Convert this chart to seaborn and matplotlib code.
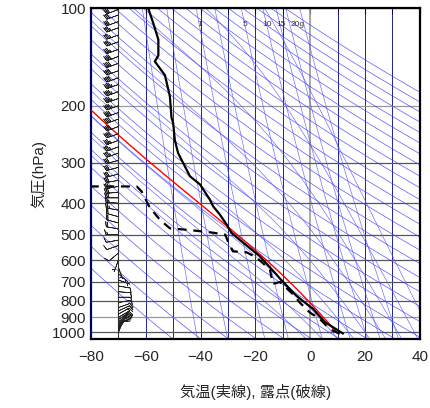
import numpy as np
import pandas as pd
import seaborn as sns
import matplotlib
matplotlib.use("Agg")
import matplotlib.pyplot as plt

# sounding
t_pres = [1010, 930, 848, 773, 700, 647, 583, 529, 494, 465, 433, 409, 390, 350, 330,
          280, 255, 226, 218, 187, 161, 146, 140, 125, 111, 100]
t_temp = [12.0, 5.3, 1.1, -5.0, -9.9, -13.5, -18.4, -24.5, -28.7, -30.5, -33.0, -35.4,
          -36.6, -40.2, -43.9, -48.2, -49.4, -50.0, -50.6, -51.2, -53.0, -56.7, -55.4,
          -55.4, -57.3, -59.1]
td_pres = [1010, 980, 910, 870, 810, 765, 700, 710, 640, 588, 567, 563, 525, 500, 493,
           484, 478, 450, 413, 368, 355, 355]
td_dew = [10.8, 7.2, 3.5, -0.1, -3.8, -6.2, -11.0, -13.6, -14.7, -19.6, -23.2, -28.2,
          -30.0, -31.0, -35.5, -43.9, -51.2, -54.8, -58.5, -61.5, -63.3, -80.0]

# winds: pressure, direction (deg), speed (kt)
w_pres = [1005, 990, 975, 960, 945, 930, 915, 900, 880, 860, 840, 810, 780, 750, 720,
          690, 660, 630, 600, 570, 540, 520, 500, 480, 460, 440, 420, 400, 385, 370,
          355, 340, 325, 310, 295, 280, 268, 256, 244, 232, 220, 210, 200, 190, 181,
          172, 164, 156, 148, 141, 134, 127, 121, 115, 110, 105, 101]
w_dir = [20, 30, 35, 40, 45, 50, 55, 60, 60, 65, 70, 80, 90, 95, 100,
         110, 130, 160, 200, 230, 250, 260, 270, 280, 285, 285, 280, 275, 270, 265,
         260, 260, 255, 255, 255, 250, 250, 250, 250, 250, 250, 250, 250, 250, 250,
         250, 250, 250, 250, 250, 250, 250, 250, 250, 250, 250, 250]
w_spd = [8, 10, 12, 13, 14, 15, 15, 15, 14, 12, 10, 10, 12, 10, 8,
         6, 5, 5, 6, 8, 10, 12, 15, 18, 20, 22, 25, 25, 28, 30,
         30, 30, 30, 30, 32, 35, 35, 35, 40, 40, 40, 40, 45, 45, 45,
         45, 40, 40, 40, 40, 35, 35, 35, 35, 30, 30, 30]

mix_ratios = [0.1, 0.3, 1, 2, 5, 10, 15, 20, 30]
mix_labels = {1: "1", 5: "5", 10: "10", 15: "15", 20: "20g"}
thetas = np.arange(220, 520, 10)
moist_start = np.arange(-4, 45, 6)

sns.set_style("white")
plt.rcParams['font.family'] = ['Liberation Sans', 'Noto Sans CJK JP']

P = np.logspace(np.log10(1050), 2, 300)


def es(t):
    return 6.112 * np.exp(17.67 * t / (t + 243.5))


def moist(t0, p0, p_to):
    # simple integration of the pseudo adiabat
    ps = np.linspace(p0, p_to, 600)
    out = [t0]
    T = t0 + 273.15
    for i in range(1, len(ps)):
        p = ps[i - 1]
        e = es(T - 273.15)
        rs = 0.622 * e / (p - e)
        L = 2.5e6
        dTdp = (287.0 * T + L * rs) / (p * (1004.0 + L * L * rs * 0.622 / (287.0 * T * T)))
        T += dTdp * (ps[i] - p)
        out.append(T - 273.15)
    return ps, np.array(out)


fig = plt.figure(figsize=(4.31, 4.08), dpi=100)
ax = fig.add_axes([0.211, 0.169, 0.763, 0.811])
ax.set_yscale("log")

# dry adiabats
for th in thetas:
    sns.lineplot(x=th * (P / 1000.0) ** 0.286 - 273.15, y=P, ax=ax, color="#3030ff",
                 lw=0.5, alpha=0.8, sort=False, estimator=None)
# moist adiabats
for t0 in moist_start:
    ps, ts = moist(t0, 1000, 100)
    ps2, ts2 = moist(t0, 1000, 1050)
    ax.plot(np.r_[ts2[::-1], ts], np.r_[ps2[::-1], ps], color="#5050ff", lw=0.5, alpha=0.8)
# mixing ratio lines
for w in mix_ratios:
    e = w / 1000.0 * P / (0.622 + w / 1000.0)
    l = np.log(e / 6.112)
    t = 243.5 * l / (17.67 - l)
    ax.plot(t, P, color="#5050ff", lw=0.5, alpha=0.8)
    if w in mix_labels:
        e1 = w / 1000.0 * 115 / (0.622 + w / 1000.0)
        l1 = np.log(e1 / 6.112)
        ax.text(243.5 * l1 / (17.67 - l1), 112, mix_labels[w], fontsize=6, color="#333333",
                ha="left" if w == 20 else "center", va="center")

# isotherms and isobars
for x in range(-80, 41, 10):
    ax.axvline(x, color="#999999" if x == 0 else "#000080",
               lw=1.2 if x == 0 else 0.6, zorder=1)
for y in range(100, 1001, 100):
    ax.axhline(y, color="#999999" if y in (200, 900) else "#555555", lw=0.9, zorder=1)

# parcel path
pp, pt = moist(10.0, 1010, 100)
ax.plot(pt, pp, color="red", lw=1.0, zorder=3)

ax.plot(t_temp, t_pres, color="black", lw=1.6, zorder=4)
ax.plot(td_dew, td_pres, color="black", lw=1.6, ls=(0, (4, 3)), zorder=4)

# winds
wd = np.deg2rad(np.array(w_dir))
ws = np.array(w_spd)
u = -ws * np.sin(wd)
v = -ws * np.cos(wd)
ax.axvline(-70, color="#333333", lw=0.8, zorder=2)
ax.barbs(np.full(len(w_pres), -70.0), w_pres, u, v, length=4.2, lw=0.5,
         color="#222222", zorder=5)

ax.set_xlim(-80, 40)
ax.set_ylim(1050, 100)
ax.set_yticks(list(range(100, 1001, 100)))
ax.set_yticklabels([str(y) for y in range(100, 1001, 100)])
ax.minorticks_off()
ax.set_xticks(range(-80, 41, 20))
ax.set_xticks(range(-80, 41, 10), minor=True)
ax.tick_params(axis="both", which="both", direction="in", top=True, labelsize=11,
               length=4, color="black")
ax.tick_params(axis="x", pad=8)
for s in ax.spines.values():
    s.set_linewidth(1.6)
    s.set_color("black")
ax.spines["left"].set_color("#000060")
ax.set_ylabel("気圧(hPa)", fontsize=11)
ax.set_xlabel("気温(実線), 露点(破線)", fontsize=11, labelpad=14)

fig.savefig("out.png", dpi=100)
